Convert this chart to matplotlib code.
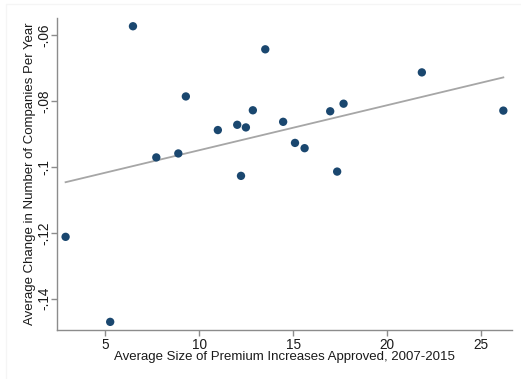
import matplotlib
matplotlib.use("Agg")
import matplotlib.pyplot as plt
import numpy as np

plt.rcParams['font.family'] = ['Liberation Sans', 'DejaVu Sans']

# Data
premium_increase = [6.49, 13.52, 21.84, 9.30, 12.86, 16.97, 17.68, 26.17, 14.47,
                    11.00, 12.03, 12.49, 7.73, 8.90, 15.10, 15.61, 12.23, 17.34,
                    2.91, 5.28]
company_change = [-0.0573, -0.0643, -0.0713, -0.0786, -0.0828, -0.0831, -0.0808,
                  -0.0829, -0.0863, -0.0888, -0.0872, -0.0880, -0.0971, -0.0959,
                  -0.0927, -0.0943, -0.1027, -0.1014, -0.1212, -0.1470]
fit_intercept = -0.1086
fit_slope = 0.001367

x_ticks = [5, 10, 15, 20, 25]
y_ticks = [-0.06, -0.08, -0.10, -0.12, -0.14]
y_tick_labels = ["-.06", "-.08", "-.1", "-.12", "-.14"]

fig = plt.figure(figsize=(5.21, 3.79), dpi=100)
# faint outer frame like the reference (top and left edges only)
fig.add_artist(plt.Rectangle((0.012, -0.1), 1.1, 1.09, transform=fig.transFigure,
                             fill=False, edgecolor='#f5f5f5', lw=1.0))
ax = fig.add_axes([0.110, 0.129, 0.872, 0.8235])

xs = np.array([min(premium_increase), max(premium_increase)])
ax.plot(xs, fit_intercept + fit_slope * xs, color='#a6a6a6', lw=1.3, zorder=2)
ax.scatter(premium_increase, company_change, s=36, color='#1a476f', zorder=3,
           edgecolors='none')

ax.set_xlim(2.47, 26.61)
ax.set_ylim(-0.1495, -0.0548)
ax.set_xticks(x_ticks)
ax.set_yticks(y_ticks)
ax.set_yticklabels(y_tick_labels, rotation=90, va='center')

for s in ['top', 'right']:
    ax.spines[s].set_visible(False)
for s in ['left', 'bottom']:
    ax.spines[s].set_color('#8c8c8c')
    ax.spines[s].set_linewidth(1.0)
ax.tick_params(axis='both', colors='#8c8c8c', length=4, width=1.0,
               labelsize=9.8, labelcolor='#1a1a1a', pad=1.5)
ax.tick_params(axis='y', pad=0.5)

ax.set_xlabel("Average Size of Premium Increases Approved, 2007-2015",
              fontsize=9.5, color='#1a1a1a', labelpad=-0.5)
ax.set_ylabel("Average Change in Number of Companies Per Year",
              fontsize=9.5, color='#1a1a1a', labelpad=0.5)

fig.savefig("out.png", dpi=100)
